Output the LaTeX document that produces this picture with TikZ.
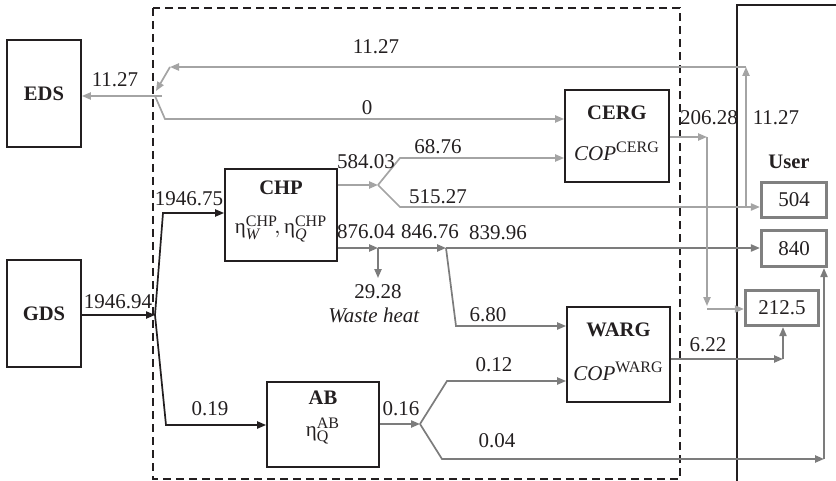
\documentclass[tikz,border=0pt]{standalone}
\usepackage{fontspec}
\setmainfont{Liberation Serif}
\usetikzlibrary{arrows.meta}
\definecolor{lgray}{HTML}{A4A4A4}
\definecolor{dgray}{HTML}{7C7C7C}
\definecolor{ugray}{HTML}{808080}
\definecolor{ink}{HTML}{231F20}
\newcommand{\ueta}{\mbox{η}}
\newcommand{\sups}[1]{\mbox{\fontsize{8}{8}\selectfont #1}}
\begin{document}
\begin{tikzpicture}[x=0.5pt,y=-0.5pt,
  font=\fontsize{10.5}{12}\selectfont,
  box/.style={draw=ink, line width=0.9pt, inner sep=0pt},
  ubox/.style={draw=ugray, line width=1.6pt, inner sep=0pt, text=ink},
  lf/.style={draw=lgray, line width=0.85pt},
  df/.style={draw=dgray, line width=0.85pt},
  bf/.style={draw=ink, line width=0.85pt},
  tip/.style={-{Triangle[length=4.5pt,width=3.6pt]}},
  lab/.style={inner sep=0pt, text=ink},
  bl/.style={lab, font=\fontsize{10.3}{12}\selectfont\bfseries}]
\useasboundingbox (0,0) rectangle (836,481);

% system boundary and user area
\draw[ink, line width=0.7pt, dash pattern=on 4pt off 2.5pt] (153,8) rectangle (680,479);
\draw[ink, line width=0.8pt] (737,481) -- (737,5) -- (836,5);

% boxes
\node[box, minimum width=37pt, minimum height=53.5pt] (eds) at (44,93.5) {};
\node[bl] (edsT) at (44,94) {EDS};
\node[box, minimum width=37pt, minimum height=53.5pt] (gds) at (44,313.5) {};
\node[bl] (gdsT) at (44,314) {GDS};
\node[box, minimum width=56pt, minimum height=46pt] (chp) at (281,215) {};
\node[bl] (chpT) at (281,188) {CHP};
\node[lab] (chpE) at (281,229) {$\ueta^{\sups{CHP}}_{\sups{\itshape W}}\!,\ueta^{\sups{CHP}}_{\sups{\itshape Q}}$};
\node[box, minimum width=52pt, minimum height=46pt] (cerg) at (617,136) {};
\node[bl] (cergT) at (617,113) {CERG};
\node[lab] (cergE) at (617,151) {\textit{COP}$^{\sups{CERG}}$};
\node[box, minimum width=51.5pt, minimum height=47.5pt] (warg) at (618.5,354.5) {};
\node[bl] (wargT) at (618.5,330) {WARG};
\node[lab] (wargE) at (618.5,371) {\textit{COP}$^{\sups{WARG}}$};
\node[box, minimum width=56pt, minimum height=42.5pt] (ab) at (323,424.5) {};
\node[bl] (abT) at (323,398) {AB};
\node[lab] (abE) at (323,431) {$\ueta^{\sups{AB}}_{\sups{Q}}$};

\node[bl] (userT) at (789,162) {User};
\node[ubox, minimum width=32.5pt, minimum height=17.5pt] (u504) at (794,200) {504};
\node[ubox, minimum width=32.5pt, minimum height=18pt] (u840) at (794,248.5) {840};
\node[ubox, minimum width=36.5pt, minimum height=17.5pt] (u2125) at (782,308) {212.5};

% coordinates
\coordinate (jE) at (155,96);
\coordinate (eS) at (162,96);
\coordinate (rTop) at (746,67);
\coordinate (rBot) at (746,207);
\coordinate (rL) at (170,67);
\coordinate (rEnd) at (156,91);
\coordinate (z1) at (165,119);
\coordinate (jG) at (155,315);
\coordinate (g1) at (163,213);
\coordinate (g2) at (166,425);
\coordinate (c1) at (378,185);
\coordinate (c2) at (400,158);
\coordinate (c3) at (400,207);
\coordinate (w1) at (378,248);
\coordinate (w2) at (378,278);
\coordinate (w3) at (446,248);
\coordinate (w4) at (456,326);
\coordinate (k1) at (707,137);
\coordinate (k2) at (707,306);
\coordinate (k3) at (707,309);
\coordinate (q1) at (783,359);
\coordinate (a1) at (420,424);
\coordinate (a2) at (447,381);
\coordinate (a3) at (442,459);
\coordinate (a4) at (824,459);

% electricity
\draw[lf,tip] (rBot) -- (rTop);
\draw[lf,tip] (rTop) -- (rL);
\draw[lf,tip] (rL) -- (rEnd);
\draw[lf,tip] (eS) -- (eds.east |- eS);
\draw[lf,tip] (jE) -- (z1) -- (cerg.west |- z1);

% gas
\draw[bf,tip] (gds.east |- jG) -- (jG);
\draw[bf,tip] (jG) -- (g1) -- (chp.west |- g1);
\draw[bf,tip] (jG) -- (g2) -- (ab.west |- g2);

% CHP electricity
\draw[lf,tip] (chp.east |- c1) -- (c1);
\draw[lf,tip] (c1) -- (c2) -- (cerg.west |- c2);
\draw[lf,tip] (c1) -- (c3) -- (u504.west |- c3);

% CHP heat
\draw[df,tip] (chp.east |- w1) -- (w1);
\draw[df,tip] (w1) -- (w2);
\draw[df,tip] (w1) -- (w3);
\draw[df,tip] (w3) -- (u840.west |- w3);
\draw[df,tip] (w3) -- (w4) -- (warg.west |- w4);

% CERG cooling
\draw[lf,tip] (cerg.east |- k1) -- (k1);
\draw[lf,tip] (k1) -- (k2);
\draw[lf,tip] (k3) -- (u2125.west |- k3);

% WARG cooling
\draw[df,tip] (warg.east |- q1) -- (q1);
\draw[df,tip] (q1) -- (u2125.south -| q1);

% AB heat
\draw[df,tip] (ab.east |- a1) -- (a1);
\draw[df,tip] (a1) -- (a2) -- (warg.west |- a2);
\draw[df,tip] (a1) -- (a3) -- (a4);
\draw[df,tip] (a4) -- (u840.south -| a4);

% labels
\node[lab] (l1) at (376,47) {11.27};
\node[lab] (l2) at (115,80) {11.27};
\node[lab] (l3) at (367,108) {0};
\node[lab] (l4) at (438,147) {68.76};
\node[lab] (l5) at (438,197) {515.27};
\node[lab] (l6) at (366,162) {584.03};
\node[lab] (l7) at (366,232) {876.04};
\node[lab] (l8) at (430,232) {846.76};
\node[lab] (l9) at (498,233) {839.96};
\node[lab] (l10) at (189,199) {1946.75};
\node[lab] (l11) at (118,302) {1946.94};
\node[lab] (l12) at (210,409) {0.19};
\node[lab] (l13) at (401,409) {0.16};
\node[lab] (l14) at (378,292) {29.28};
\node[lab] (l15) at (374,315) {\textit{Waste heat}};
\node[lab] (l16) at (488,315) {6.80};
\node[lab] (l17) at (494,365) {0.12};
\node[lab] (l18) at (497,441) {0.04};
\node[lab] (l19) at (708,345) {6.22};
\node[lab] (l20) at (709,118) {206.28};
\node[lab] (l21) at (776,118) {11.27};
\end{tikzpicture}
\end{document}
